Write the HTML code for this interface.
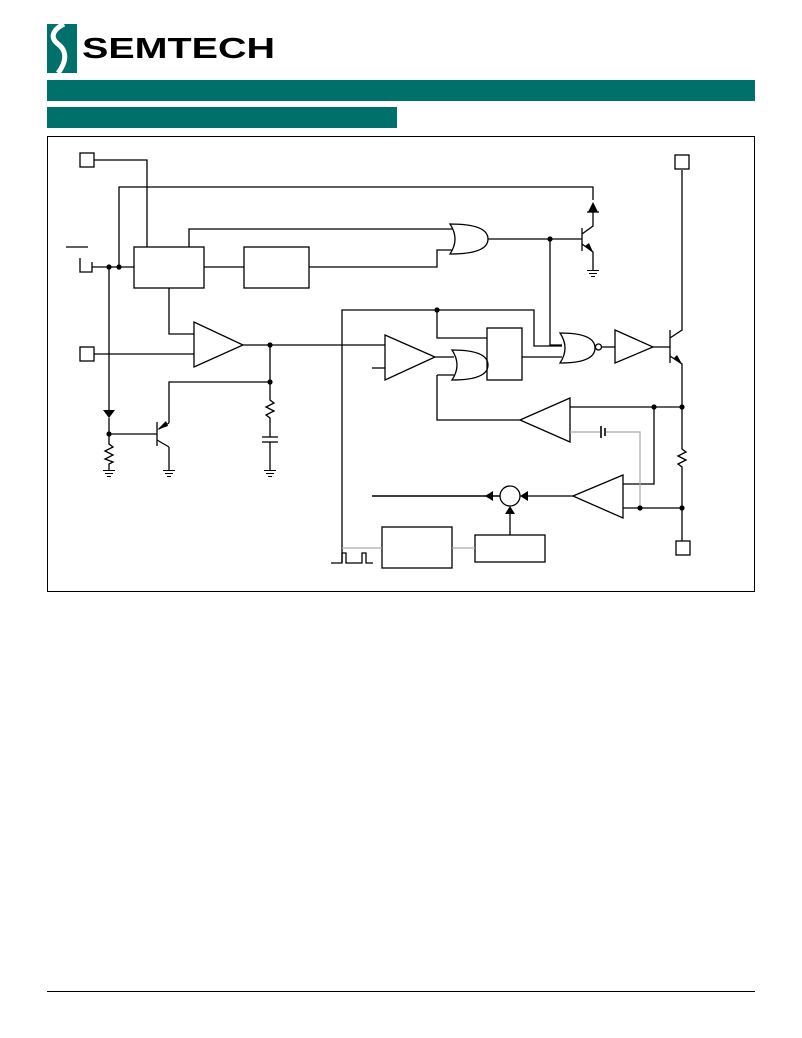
<!DOCTYPE html>
<html><head><meta charset="utf-8"><style>
html,body{margin:0;padding:0;background:#fff;width:802px;height:1038px;overflow:hidden}
</style></head><body>
<svg width="802" height="1038" xmlns="http://www.w3.org/2000/svg" font-family="Liberation Sans, sans-serif">
<rect x="47" y="24" width="30" height="49" fill="#00706a"/>
<path d="M64,24 C52,30 50,38 58,44 C66,50 68,60 58,73" stroke="#fff" stroke-width="5" fill="none"/>
<text x="82" y="58" font-size="29" font-weight="bold" fill="#000" textLength="193" lengthAdjust="spacingAndGlyphs">SEMTECH</text>
<rect x="47" y="80" width="708" height="21" fill="#00706a"/>
<rect x="47" y="107" width="350" height="21" fill="#00706a"/>
<rect x="47.5" y="136.5" width="707" height="455" fill="none" stroke="#000" stroke-width="1"/>
<line x1="47" y1="991.5" x2="755" y2="991.5" stroke="#000"/>
<g stroke="#000" stroke-width="1.3" fill="none">
<rect x="80" y="153" width="14" height="14"/>
<polyline points="94,160 147,160 147,247"/>
<polyline points="119,267 119,187 593,187 593,200"/>
<rect x="134" y="247" width="70" height="41"/>
<rect x="244" y="247" width="65" height="41"/>
<line x1="204" y1="267" x2="244" y2="267"/>
<polyline points="309,267 437,267 437,250 452,250"/>
<polyline points="189,247 189,229 452,229"/>
<path d="M450,224 Q488,224 488,239 Q488,254 450,254 Q460,239 450,224 Z"/>
<line x1="488" y1="239" x2="582" y2="239"/>
<polyline points="550,239 550,345 562,345"/>
<line x1="582" y1="228" x2="582" y2="251"/>
<polyline points="582,234 593,226 593,212"/>
<polyline points="582,244 593,252 593,270"/>
<line x1="587" y1="212" x2="599" y2="212"/>
<line x1="66" y1="247" x2="88" y2="247"/>
<polyline points="80,258 80,272 92,272 92,262"/>
<line x1="92" y1="267" x2="134" y2="267"/>
<polyline points="109,267 109,410"/>
<line x1="109" y1="418" x2="109" y2="440"/>
<polyline points="109,440 109,444 113,447 105,451 113,455 105,459 113,462 109,464 109,470"/>
<polyline points="169,288 169,334 194,334"/>
<polygon points="194,322 194,367 243,345"/>
<rect x="80" y="347" width="14" height="14"/>
<line x1="94" y1="354" x2="194" y2="354"/>
<line x1="243" y1="345" x2="385" y2="345"/>
<polyline points="270,345 270,395"/>
<polyline points="270,382 169,382 169,423"/>
<line x1="109" y1="434" x2="157" y2="434"/>
<line x1="157" y1="422" x2="157" y2="446"/>
<line x1="157" y1="440" x2="169" y2="447"/>
<line x1="169" y1="447" x2="169" y2="470"/>
<line x1="169" y1="423" x2="159" y2="429"/>
<polyline points="270,395 270,400 274,403 266,407 274,411 266,415 270,418 270,437"/>
<line x1="262" y1="437" x2="278" y2="437"/>
<line x1="262" y1="442" x2="278" y2="442"/>
<line x1="270" y1="442" x2="270" y2="470"/>
<polygon points="385,335 385,380 435,357"/>
<line x1="372" y1="368" x2="385" y2="368"/>
<polyline points="342,562 342,310 534,310 534,346 562,346"/>
<polyline points="437,310 437,338 487,338"/>
<rect x="487" y="328" width="35" height="52"/>
<line x1="435" y1="357" x2="454" y2="357"/>
<path d="M452,350 Q488,350 488,365 Q488,380 452,380 Q462,365 452,350 Z"/>
<polyline points="437,375 454,375"/>
<polyline points="437,375 437,420 520,420"/>
<polyline points="522,357 562,357"/>
<path d="M560,333 Q595,333 595,348 Q595,363 560,363 Q570,348 560,333 Z"/>
<circle cx="598.5" cy="347" r="3"/>
<line x1="602" y1="347" x2="615" y2="347"/>
<polygon points="615,330 615,363 653,347"/>
<line x1="653" y1="347" x2="670" y2="347"/>
<line x1="670" y1="330" x2="670" y2="363"/>
<polyline points="670,338 682,330 682,170"/>
<rect x="675" y="155" width="14" height="14"/>
<polyline points="670,356 682,364 682,445"/>
<polyline points="682,445 682,449 686,452 678,456 686,460 678,464 682,467 682,541"/>
<rect x="676" y="541" width="14" height="14"/>
<polygon points="520,420 570,398 570,442"/>
<line x1="570" y1="407" x2="682" y2="407"/>
<polyline points="623,484 654,484 654,407"/>
<polygon points="573,496 623,475 623,518"/>
<line x1="623" y1="508" x2="682" y2="508"/>
<line x1="573" y1="496" x2="528" y2="496"/>
<circle cx="510" cy="496" r="10"/>
<line x1="500" y1="496" x2="372" y2="496" stroke-width="1.6"/>
<line x1="510" y1="535" x2="510" y2="512"/>
<rect x="382" y="527" width="70" height="41"/>
<rect x="475" y="535" width="70" height="27"/>
<polyline points="331,563 342,563 342,553 346,553 346,563 362,563 362,553 366,553 366,563 373,563"/>
</g>
<g stroke="#000" stroke-width="1">
<line x1="103" y1="470.5" x2="115" y2="470.5"/><line x1="105" y1="473.5" x2="113" y2="473.5"/><line x1="107" y1="476.5" x2="111" y2="476.5"/>
<line x1="163" y1="470.5" x2="175" y2="470.5"/><line x1="165" y1="473.5" x2="173" y2="473.5"/><line x1="167" y1="476.5" x2="171" y2="476.5"/>
<line x1="264" y1="470.5" x2="276" y2="470.5"/><line x1="266" y1="473.5" x2="274" y2="473.5"/><line x1="268" y1="476.5" x2="272" y2="476.5"/>
<line x1="587" y1="270.5" x2="599" y2="270.5"/><line x1="589" y1="273.5" x2="597" y2="273.5"/><line x1="591" y1="276.5" x2="595" y2="276.5"/>
</g>
<g stroke="#aaa" stroke-width="1.2" fill="none">
<polyline points="570,432 600,432"/>
<polyline points="606,432 640,432 640,508"/>
<line x1="342" y1="548" x2="382" y2="548"/>
<line x1="452" y1="548" x2="475" y2="548"/>
</g>
<g stroke="#000" stroke-width="1.6">
<line x1="601" y1="426" x2="601" y2="438"/><line x1="605" y1="428" x2="605" y2="436"/>
</g>
<g fill="#000">
<circle cx="109" cy="267" r="2.6"/><circle cx="119" cy="267" r="2.6"/>
<circle cx="550" cy="239" r="2.6"/><circle cx="270" cy="345" r="2.6"/><circle cx="270" cy="382" r="2.6"/>
<circle cx="109" cy="434" r="2.6"/><circle cx="437" cy="310" r="2.6"/>
<circle cx="654" cy="407" r="2.6"/><circle cx="682" cy="407" r="2.6"/>
<circle cx="640" cy="508" r="2.6"/><circle cx="682" cy="508" r="2.6"/>
<polygon points="103,410 115,410 109,418"/>
<polygon points="588,212 598,212 593,202"/>
<polygon points="593,252 585,246 589,243"/>
<polygon points="682,364 674,358 677,355"/>
<polygon points="157,430 166,421 168,426"/>
<polygon points="520,496 528,491 528,501"/>
<polygon points="485,496 493,491 493,501"/>
<polygon points="510,506 505,514 515,514"/>
</g>
</svg>
</body></html>
